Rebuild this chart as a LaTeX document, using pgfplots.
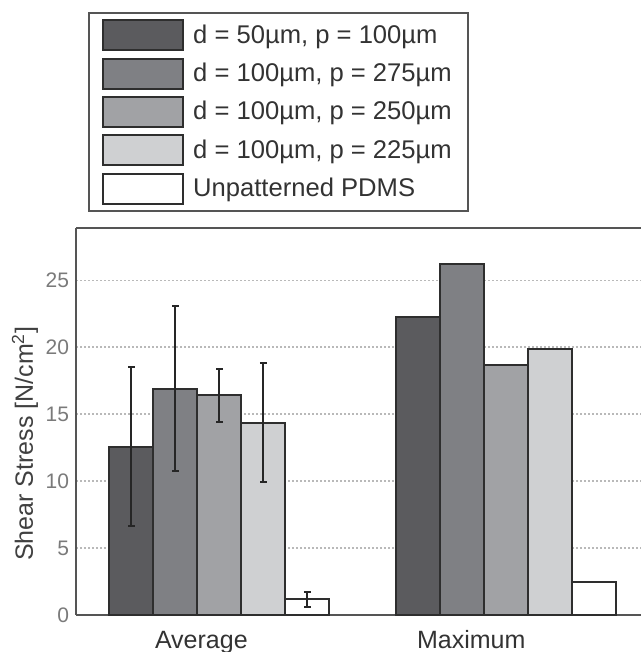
\documentclass[border=0pt]{standalone}
\usepackage{pgfplots}
\pgfplotsset{compat=1.18}
\usepackage{fontspec}
\setmainfont{Liberation Sans}
\definecolor{barA}{HTML}{5B5B5E}
\definecolor{barB}{HTML}{7F8084}
\definecolor{barC}{HTML}{A1A2A5}
\definecolor{barD}{HTML}{CFD0D2}
\definecolor{edge}{HTML}{2E2E2E}
\definecolor{frame}{HTML}{555555}
\definecolor{ticktxt}{HTML}{7A7A7A}
\pgfplotsset{
  mybar/.style={fill=#1, draw=edge, line width=1pt, bar shift=0pt, bar width=0.1533},
  myerr/.style={error bars/.cd, y dir=both, y explicit,
    error bar style={line width=1pt, black!85},
    error mark options={rotate=90, mark size=1.7pt, line width=1pt, black!85}},
}
\begin{document}
\begin{tikzpicture}
\begin{axis}[
  at={(38pt,18.5pt)}, anchor=south west,
  scale only axis, width=282.5pt, height=193.5pt,
  xmin=0.5, xmax=2.47, ymin=0, ymax=28.9,
  clip=false, ybar,
  axis x line*=bottom, axis y line*=left,
  axis line style={frame, line width=1pt, -},
  ytick={0,5,...,25}, xtick={0.937,1.878}, xticklabels={Average,Maximum},
  major tick length=0pt,
  ymajorgrids, grid style={gray!55, line width=0.7pt, dash pattern=on 1pt off 1pt},
  tick label style={/pgf/number format/assume math mode=true},
  yticklabel style={font=\fontsize{10.5}{12}\selectfont, text=ticktxt},
  xticklabel style={font=\fontsize{12.5}{15}\selectfont, text=black!80, anchor=base, yshift=-16.5pt},
  ylabel={Shear Stress [N/cm\textsuperscript{2}]},
  every axis y label/.style={at={(rel axis cs:-0.0903,0.443)}, rotate=90, anchor=center,
    font=\fontsize{12.5}{15}\selectfont, text=black!75},
  legend style={at={(rel axis cs:0.0212,1.558)}, anchor=north west, draw=frame, line width=1.2pt,
    font=\fontsize{12.8}{15}\selectfont, inner xsep=6.5pt, inner ysep=3pt,
    nodes={inner sep=1.5pt, text=black!80}, row sep=3.2pt, column sep=3pt},
  legend cell align=left,
  legend image code/.code={\draw[#1, line width=1pt] (0pt,-7.5pt) rectangle (40pt,7.5pt);},
]
\addplot[mybar=barA, myerr] coordinates {(0.6934,12.57) +- (0,5.93)};
\addlegendentry{d = 50µm, p = 100µm}
\addplot[mybar=barB, myerr] coordinates {(0.8467,16.90) +- (0,6.17)};
\addlegendentry{d = 100µm, p = 275µm}
\addplot[mybar=barC, myerr] coordinates {(1.0,16.40) +- (0,2.00)};
\addlegendentry{d = 100µm, p = 250µm}
\addplot[mybar=barD, myerr] coordinates {(1.1533,14.35) +- (0,4.45)};
\addlegendentry{d = 100µm, p = 225µm}
\addplot[mybar=white, myerr] coordinates {(1.3066,1.16) +- (0,0.54)};
\addlegendentry{Unpatterned PDMS}
% maximum group, no error bars
\addplot[mybar=barA, forget plot] coordinates {(1.6934,22.26)};
\addplot[mybar=barB, forget plot] coordinates {(1.8467,26.20)};
\addplot[mybar=barC, forget plot] coordinates {(2.0,18.65)};
\addplot[mybar=barD, forget plot] coordinates {(2.1533,19.90)};
\addplot[mybar=white, forget plot] coordinates {(2.3066,2.49)};
\draw[frame, line width=1pt] (rel axis cs:0,1) -- (rel axis cs:1,1);
\end{axis}
\pgfresetboundingbox
\useasboundingbox (0,0) rectangle (320.5pt,326pt);
\end{tikzpicture}
\end{document}
